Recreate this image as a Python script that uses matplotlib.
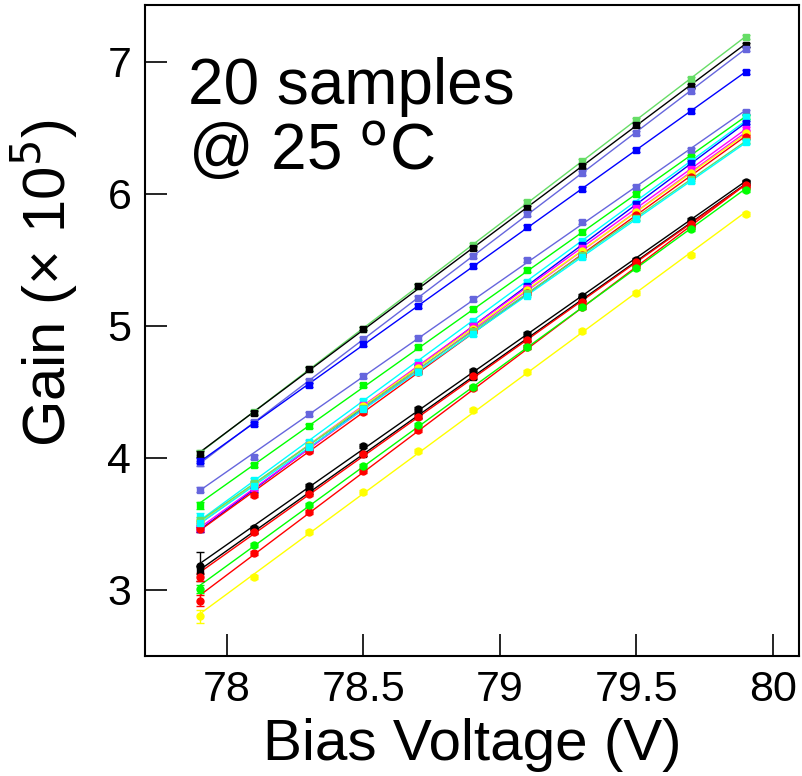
import numpy as np
import matplotlib
matplotlib.use("Agg")
import matplotlib.pyplot as plt

# bias voltage points (V)
bias = [77.9, 78.1, 78.3, 78.5, 78.7, 78.9, 79.1, 79.3, 79.5, 79.7, 79.9]

# gain (x 1e5) per sample
colors = ['#66dd66', 'black', '#6666dd', 'blue',
          '#6666dd', '#00ff00', '#00ffff', 'blue', '#ff00ff', '#ff00ff',
          '#ffff00', 'red', '#66dd66', '#00ffff',
          'black', 'black', 'red', 'red', '#00ff00', '#ffff00']

gain = [
    [4.04, 4.35, 4.67, 4.98, 5.30, 5.61, 5.94, 6.25, 6.56, 6.87, 7.19],
    [4.03, 4.34, 4.67, 4.98, 5.30, 5.59, 5.89, 6.21, 6.52, 6.82, 7.13],
    [3.96, 4.27, 4.58, 4.90, 5.21, 5.53, 5.85, 6.16, 6.46, 6.78, 7.10],
    [3.98, 4.26, 4.55, 4.86, 5.15, 5.45, 5.75, 6.04, 6.33, 6.63, 6.92],
    [3.76, 4.01, 4.33, 4.62, 4.91, 5.20, 5.50, 5.79, 6.05, 6.33, 6.62],
    [3.64, 3.95, 4.24, 4.55, 4.84, 5.13, 5.42, 5.71, 6.00, 6.28, 6.58],
    [3.55, 3.83, 4.12, 4.43, 4.73, 5.04, 5.33, 5.64, 5.93, 6.25, 6.58],
    [3.46, 3.76, 4.07, 4.38, 4.69, 5.00, 5.30, 5.61, 5.92, 6.23, 6.54],
    [3.50, 3.80, 4.10, 4.40, 4.70, 5.00, 5.29, 5.59, 5.89, 6.19, 6.49],
    [3.47, 3.77, 4.07, 4.37, 4.67, 4.97, 5.27, 5.57, 5.86, 6.16, 6.47],
    [3.52, 3.80, 4.10, 4.39, 4.68, 4.98, 5.27, 5.57, 5.86, 6.16, 6.46],
    [3.46, 3.72, 4.05, 4.35, 4.65, 4.96, 5.25, 5.54, 5.84, 6.13, 6.43],
    [3.53, 3.81, 4.09, 4.38, 4.66, 4.96, 5.25, 5.54, 5.82, 6.11, 6.40],
    [3.51, 3.79, 4.08, 4.37, 4.65, 4.94, 5.23, 5.52, 5.81, 6.10, 6.39],
    [3.18, 3.47, 3.79, 4.09, 4.37, 4.66, 4.94, 5.23, 5.50, 5.80, 6.09],
    [3.15, 3.45, 3.74, 4.03, 4.32, 4.61, 4.90, 5.20, 5.49, 5.78, 6.08],
    [3.10, 3.44, 3.73, 4.03, 4.31, 4.62, 4.89, 5.18, 5.48, 5.77, 6.07],
    [2.92, 3.28, 3.59, 3.90, 4.21, 4.53, 4.84, 5.14, 5.45, 5.75, 6.05],
    [3.01, 3.34, 3.64, 3.94, 4.25, 4.54, 4.84, 5.14, 5.44, 5.73, 6.03],
    [2.80, 3.10, 3.44, 3.74, 4.05, 4.36, 4.65, 4.96, 5.25, 5.54, 5.85],
]

# error on the first point of each sample (others are small)
first_err = [0.02, 0.02, 0.02, 0.02, 0.02, 0.03, 0.03, 0.02, 0.02, 0.02,
             0.02, 0.02, 0.02, 0.02, 0.11, 0.03, 0.03, 0.04, 0.03, 0.05]
other_err = 0.015

markers = ['s', 's', 's', 's', 's', 's', 's', 's', 's', 's',
           'o', 'o', 's', 's', 'o', 's', 'o', 'o', 'o', 'o']


def main():
    plt.rcParams['font.family'] = ['Liberation Sans', 'DejaVu Sans']

    fig = plt.figure(figsize=(8.02, 7.76), dpi=100)
    ax = fig.add_axes([0.181, 0.1546, 0.815, 0.839])

    x = np.array(bias)
    for vals, col, mk, e0 in zip(gain, colors, markers, first_err):
        y = np.array(vals)
        err = np.full(len(y), other_err)
        err[0] = e0
        p = np.polyfit(x, y, 1)
        ax.plot(x, np.polyval(p, x), color=col, lw=1.0, zorder=2)
        ax.errorbar(x, y, yerr=err, fmt=mk, color=col, ms=5, lw=1.0,
                    capsize=3, capthick=1.0, zorder=3)

    ax.set_xlim(77.7, 80.095)
    ax.set_ylim(2.5, 7.43)
    ax.set_xticks([78, 78.5, 79, 79.5, 80])
    ax.set_xticklabels(['78', '78.5', '79', '79.5', '80'])
    ax.set_yticks([3, 4, 5, 6, 7])
    ax.tick_params(direction='in', length=16, width=1.2, labelsize=31, pad=10)
    for sp in ax.spines.values():
        sp.set_linewidth(1.5)

    ax.set_xlabel('Bias Voltage (V)', fontsize=42, labelpad=6)
    ax.set_ylabel('Gain (\u00d7 10$^{5}$)', fontsize=43)
    ax.yaxis.set_label_coords(-0.10, 0.573)

    ax.text(0.065, 0.92, '20 samples\n@ 25 $^{\\rm o}$C', transform=ax.transAxes,
            fontsize=46, va='top', ha='left', linespacing=1.05)

    fig.savefig('out.png', dpi=100)


if __name__ == "__main__":
    main()
